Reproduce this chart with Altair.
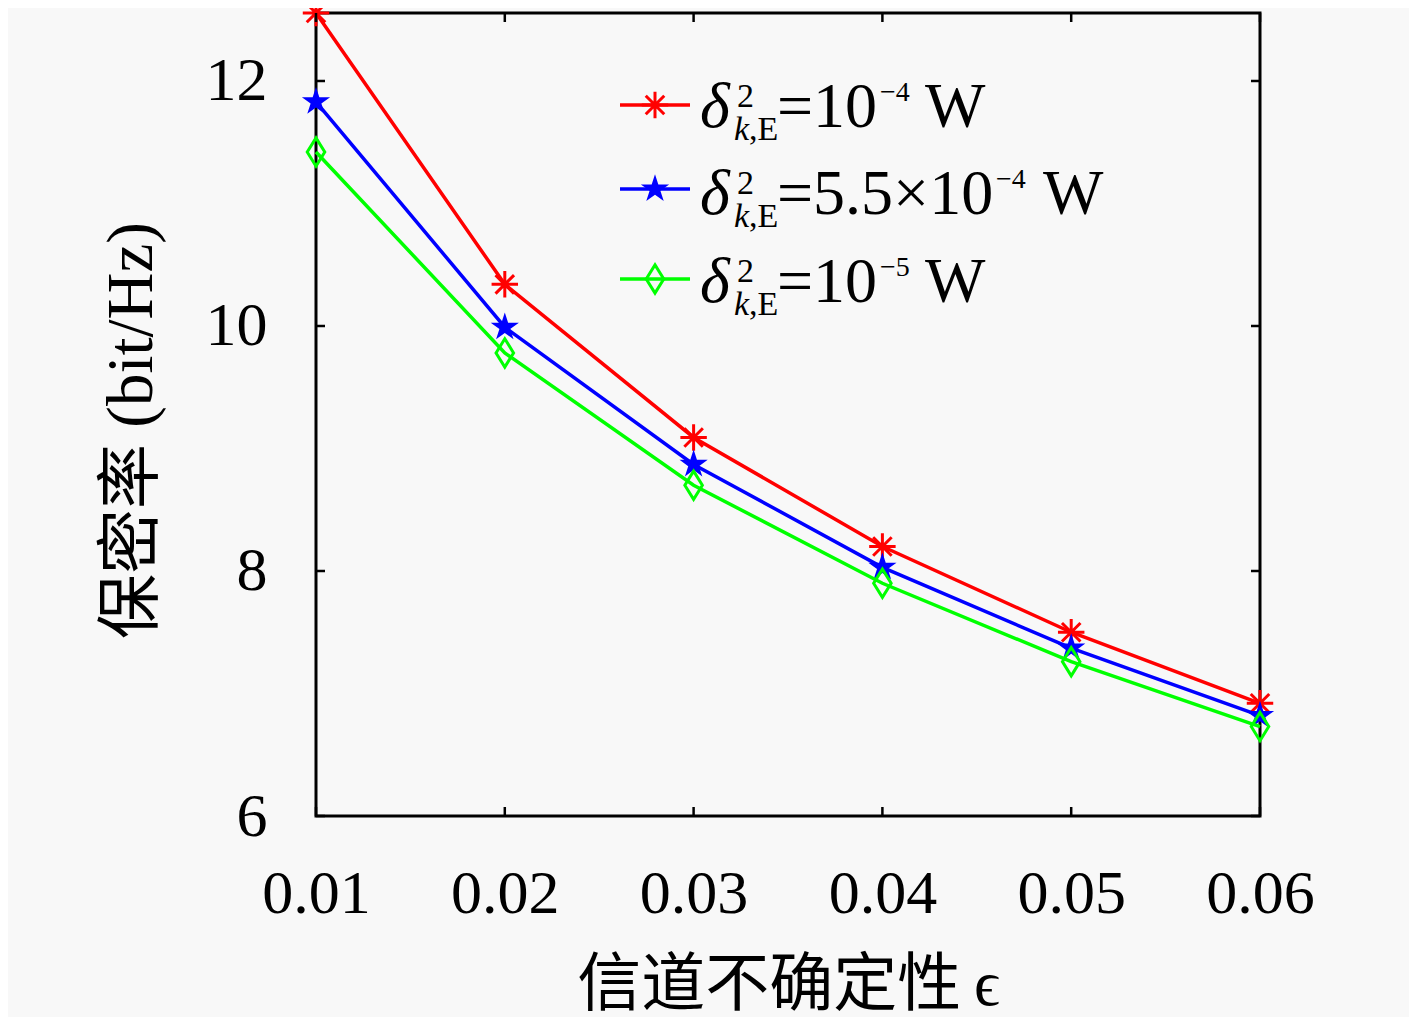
import altair as alt
import pandas as pd

# ---- data ----
eps = [0.01, 0.02, 0.03, 0.04, 0.05, 0.06]
rate_1e4 = [12.555, 10.34, 9.09, 8.20, 7.50, 6.92]
rate_55e4 = [11.83, 9.99, 8.87, 8.03, 7.37, 6.82]
rate_1e5 = [11.42, 9.78, 8.70, 7.90, 7.26, 6.73]

x_ticks = [0.01, 0.02, 0.03, 0.04, 0.05, 0.06]
y_ticks = [6, 8, 10, 12]

legend_main = ["=10", "=5.5×10", "=10"]
legend_exp = ["−4", "−4", "−5"]

x_title = "信道不确定性\u2009ϵ"
y_title = "保密率 (bit/Hz)"

# ---- style ----
W, H = 944, 803
SERIF = "'Liberation Serif', 'Noto Sans CJK SC', serif"
colors = ["#ff0000", "#0000ff", "#00ff00"]
ASTER = "M0,-1L0,1M-1,0L1,0M-0.7,-0.7L0.7,0.7M-0.7,0.7L0.7,-0.7"
STAR = ("M0,-1L0.2245,-0.309L0.951,-0.309L0.363,0.118L0.588,0.809L0,0.382"
        "L-0.588,0.809L-0.363,0.118L-0.951,-0.309L-0.2245,-0.309Z")
DIAM = "M0,-1L0.62,0L0,1L-0.62,0Z"
shapes = [ASTER, STAR, DIAM]
sizes = [700, 880, 800]
filled = [False, True, False]

xs = alt.Scale(domain=[0.01, 0.06], nice=False, zero=False)
ys = alt.Scale(domain=[6, 12.555], nice=False, zero=False)

xax = alt.Axis(values=x_ticks, format=".2f", ticks=False, tickSize=0, domain=False,
               grid=False, labelFont=SERIF, labelFontSize=62, labelColor="black",
               labelBaseline="alphabetic", labelPadding=96, labelAlign="center",
               labelFlush=False, labelOverlap=False,
               title=x_title, titleFont=SERIF, titleFontSize=64, titleFontWeight="normal",
               titleColor="black", titleBaseline="alphabetic", titleY=188)
yax = alt.Axis(values=y_ticks, format="d", ticks=False, tickSize=0, domain=False,
               grid=False, labelFont=SERIF, labelFontSize=62, labelColor="black",
               labelBaseline="middle", labelPadding=49, labelAlign="right",
               labelFlush=False, labelOverlap=False,
               title=y_title, titleFont=SERIF, titleFontSize=65, titleFontWeight="normal",
               titleColor="black", titleAngle=270, titleBaseline="middle",
               titleX=-185, titleY=417, titleAnchor="middle")

series = [rate_1e4, rate_55e4, rate_1e5]
layers = []

for i, (vals, c) in enumerate(zip(series, colors)):
    df = pd.DataFrame({"eps": eps, "rate": vals})
    enc = dict(x=alt.X("eps:Q", scale=xs, axis=xax), y=alt.Y("rate:Q", scale=ys, axis=yax))
    layers.append(alt.Chart(df).mark_line(color=c, strokeWidth=3.5).encode(**enc))
    layers.append(
        alt.Chart(df).mark_point(shape=shapes[i], size=sizes[i], filled=filled[i], color=c,
                                 strokeWidth=3, opacity=1).encode(**enc)
    )

# inward ticks on all four sides
xt = pd.DataFrame({"eps": x_ticks})
yt = pd.DataFrame({"rate": y_ticks})
TK = 9
layers.append(alt.Chart(xt).mark_rule(color="black", strokeWidth=2.5).encode(
    x=alt.X("eps:Q", scale=xs, axis=xax), y=alt.value(H - TK), y2=alt.value(H)))
layers.append(alt.Chart(xt).mark_rule(color="black", strokeWidth=2.5).encode(
    x=alt.X("eps:Q", scale=xs, axis=xax), y=alt.value(0), y2=alt.value(TK)))
layers.append(alt.Chart(yt).mark_rule(color="black", strokeWidth=2.5).encode(
    y=alt.Y("rate:Q", scale=ys, axis=yax), x=alt.value(0), x2=alt.value(TK)))
layers.append(alt.Chart(yt).mark_rule(color="black", strokeWidth=2.5).encode(
    y=alt.Y("rate:Q", scale=ys, axis=yax), x=alt.value(W - TK), x2=alt.value(W)))

# manual legend (no box)
one = pd.DataFrame({"a": [0]})
line_y = [92, 176, 266]
base_y = [114, 201, 289]
exp_x = [564, 680, 564]
w_x = [609, 727, 609]


def txt(t, x, y, size, style="normal"):
    return alt.Chart(one).mark_text(text=t, font=SERIF, fontSize=size, fontStyle=style,
                                    align="left", baseline="alphabetic", color="black").encode(
        x=alt.value(x), y=alt.value(y))


for i in range(3):
    c = colors[i]
    layers.append(alt.Chart(one).mark_rule(color=c, strokeWidth=3.5).encode(
        x=alt.value(304), x2=alt.value(374), y=alt.value(line_y[i])))
    layers.append(alt.Chart(one).mark_point(shape=shapes[i], size=sizes[i], filled=filled[i],
                                            color=c, strokeWidth=3, opacity=1).encode(
        x=alt.value(339), y=alt.value(line_y[i])))
    b = base_y[i]
    layers.append(txt("δ", 384, b, 64, "italic"))
    layers.append(txt("2", 421, b - 20, 34))
    layers.append(txt("k", 418, b + 13, 34, "italic"))
    layers.append(txt(",E", 433, b + 13, 34))
    layers.append(txt(legend_main[i], 461, b, 64))
    layers.append(txt(legend_exp[i], exp_x[i], b - 26, 28))
    layers.append(txt("W", w_x[i], b, 64))

chart = alt.layer(*layers).properties(
    width=W, height=H,
    padding={"left": 308, "top": 5, "right": 149, "bottom": 201},
    autosize=alt.AutoSizeParams(type="none"),
    background="#f8f8f8",
).configure_view(stroke="black", strokeWidth=3)

chart.save("out.html", embed_options={"renderer": "svg", "actions": False})
